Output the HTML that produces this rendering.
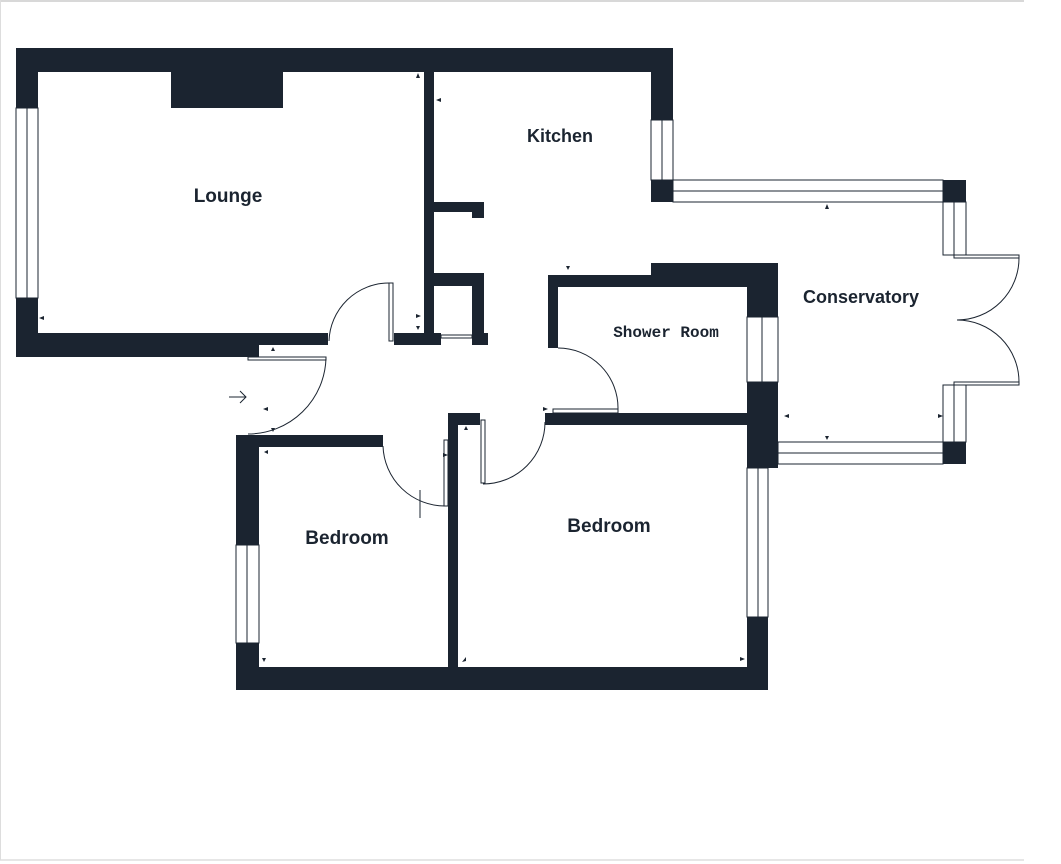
<!DOCTYPE html>
<html><head><style>
html,body{margin:0;padding:0;background:#fff;}
svg{display:block;}
text{font-family:"Liberation Sans",sans-serif;font-weight:bold;fill:#1b2430;}
</style></head><body>
<svg width="1061" height="864" viewBox="0 0 1061 864" xmlns="http://www.w3.org/2000/svg">
<line x1="0" y1="1" x2="1024" y2="1" stroke="#ccc" stroke-width="1.5"/>
<line x1="0" y1="860" x2="1024" y2="860" stroke="#ddd" stroke-width="1.5"/>
<line x1="0.5" y1="0" x2="0.5" y2="860" stroke="#ddd" stroke-width="1"/>
<g fill="#1b2430">
<!-- lounge/kitchen outer -->
<rect x="16" y="48" width="657" height="24"/>
<rect x="16" y="48" width="22" height="60"/>
<rect x="16" y="298" width="22" height="59"/>
<rect x="171" y="72" width="112" height="36"/>
<rect x="16" y="333" width="312" height="12"/>
<rect x="16" y="345" width="243" height="12"/>
<rect x="424" y="72" width="10" height="273"/>
<rect x="394" y="333" width="47" height="12"/>
<rect x="434" y="202" width="50" height="10"/>
<rect x="472" y="202" width="12" height="16"/>
<rect x="434" y="273" width="50" height="13"/>
<rect x="472" y="273" width="12" height="72"/>
<rect x="472" y="333" width="16" height="12"/>
<rect x="651" y="48" width="22" height="72"/>
<rect x="651" y="180" width="22" height="22"/>
<!-- conservatory piers -->
<rect x="943" y="180" width="23" height="22"/>
<rect x="943" y="442" width="23" height="22"/>
<!-- shower room -->
<rect x="548" y="275" width="110" height="12"/>
<rect x="651" y="263" width="127" height="24"/>
<rect x="747" y="263" width="31" height="54"/>
<rect x="747" y="382" width="31" height="86"/>
<rect x="548" y="275" width="10" height="73"/>
<rect x="545" y="413" width="223" height="12"/>
<!-- bedrooms -->
<rect x="448" y="413" width="32" height="12"/>
<rect x="448" y="413" width="10" height="277"/>
<rect x="747" y="413" width="21" height="55"/>
<rect x="747" y="617" width="21" height="73"/>
<rect x="236" y="667" width="532" height="23"/>
<rect x="236" y="435" width="147" height="12"/>
<rect x="236" y="435" width="23" height="110"/>
<rect x="236" y="643" width="23" height="47"/>
</g>
<g fill="none" stroke="#1b2430" stroke-width="1">
<!-- windows -->
<rect x="16" y="108" width="22" height="190"/><line x1="27" y1="108" x2="27" y2="298"/>
<rect x="651" y="120" width="22" height="60"/><line x1="662" y1="120" x2="662" y2="180"/>
<rect x="673" y="180" width="270" height="22"/><line x1="673" y1="191" x2="943" y2="191"/>
<rect x="943" y="202" width="23" height="53"/><line x1="954" y1="202" x2="954" y2="255"/>
<rect x="943" y="385" width="23" height="57"/><line x1="954" y1="385" x2="954" y2="442"/>
<rect x="778" y="442" width="165" height="22"/><line x1="778" y1="453" x2="943" y2="453"/>
<rect x="747" y="317" width="31" height="65"/><line x1="762" y1="317" x2="762" y2="382"/>
<rect x="747" y="468" width="21" height="149"/><line x1="758" y1="468" x2="758" y2="617"/>
<rect x="236" y="545" width="23" height="98"/><line x1="247" y1="545" x2="247" y2="643"/>
<rect x="747" y="468" width="21" height="0"/>
<!-- french doors -->
<rect x="954" y="255" width="65" height="3"/>
<rect x="954" y="382" width="65" height="3"/>
<path d="M1019 258 A62 62 0 0 1 957 320"/>
<path d="M1019 382 A62 62 0 0 0 957 320"/>
<!-- lounge door -->
<rect x="389" y="283" width="4" height="58"/>
<path d="M389 283 A60 60 0 0 0 329 341"/>
<!-- entry door -->
<rect x="248" y="357" width="78" height="3"/>
<path d="M326 358 A78 78 0 0 1 248 434"/>
<!-- cupboard door -->
<rect x="441" y="335" width="31" height="3"/>
<!-- shower door -->
<rect x="553" y="409" width="65" height="4"/>
<path d="M558 348 A60 60 0 0 1 618 409"/>
<!-- bedroom left door -->
<rect x="444" y="440" width="4" height="66"/>
<path d="M383 446 A62 62 0 0 0 445 506"/>
<line x1="420" y1="490" x2="420" y2="518"/>
<!-- bedroom right door -->
<rect x="481" y="420" width="4" height="63"/>
<path d="M545 422 A62 62 0 0 1 483 484"/>
<!-- entry arrow -->
<path d="M229 397 L246 397 M240 391 L246 397 L240 403"/>
</g>
<g fill="#1b2430">
<polygon points="418,73 416,78 420,78"/>
<polygon points="44,316 39,318 44,320"/>
<polygon points="436,100 441,98 441,102"/>
<polygon points="827,204 825,209 829,209"/>
<polygon points="568,270 566,266 570,266"/>
<polygon points="827,440 825,436 829,436"/>
<polygon points="784,416 789,414 789,418"/>
<polygon points="943,416 938,414 938,418"/>
<polygon points="273,347 271,351 275,351"/>
<polygon points="421,316 416,314 416,318"/>
<polygon points="418,330 416,326 420,326"/>
<polygon points="263,409 268,407 268,411"/>
<polygon points="273,432 271,428 275,428"/>
<polygon points="264,452 268,450 268,454"/>
<polygon points="548,409 543,407 543,411"/>
<polygon points="466,426 464,430 468,430"/>
<polygon points="448,455 443,453 443,457"/>
<polygon points="264,662 262,658 266,658"/>
<polygon points="462,662 466,657 466,661"/>
<polygon points="745,659 740,657 740,661"/>
</g>
<text x="228" y="202" font-size="19" text-anchor="middle">Lounge</text>
<text x="560" y="142" font-size="18" text-anchor="middle">Kitchen</text>
<text x="861" y="303" font-size="18" text-anchor="middle">Conservatory</text>
<text x="666" y="337" font-size="16" text-anchor="middle" style="font-family:'Liberation Mono',monospace">Shower Room</text>
<text x="347" y="544" font-size="19" text-anchor="middle">Bedroom</text>
<text x="609" y="532" font-size="19" text-anchor="middle">Bedroom</text>
</svg>
</body></html>
